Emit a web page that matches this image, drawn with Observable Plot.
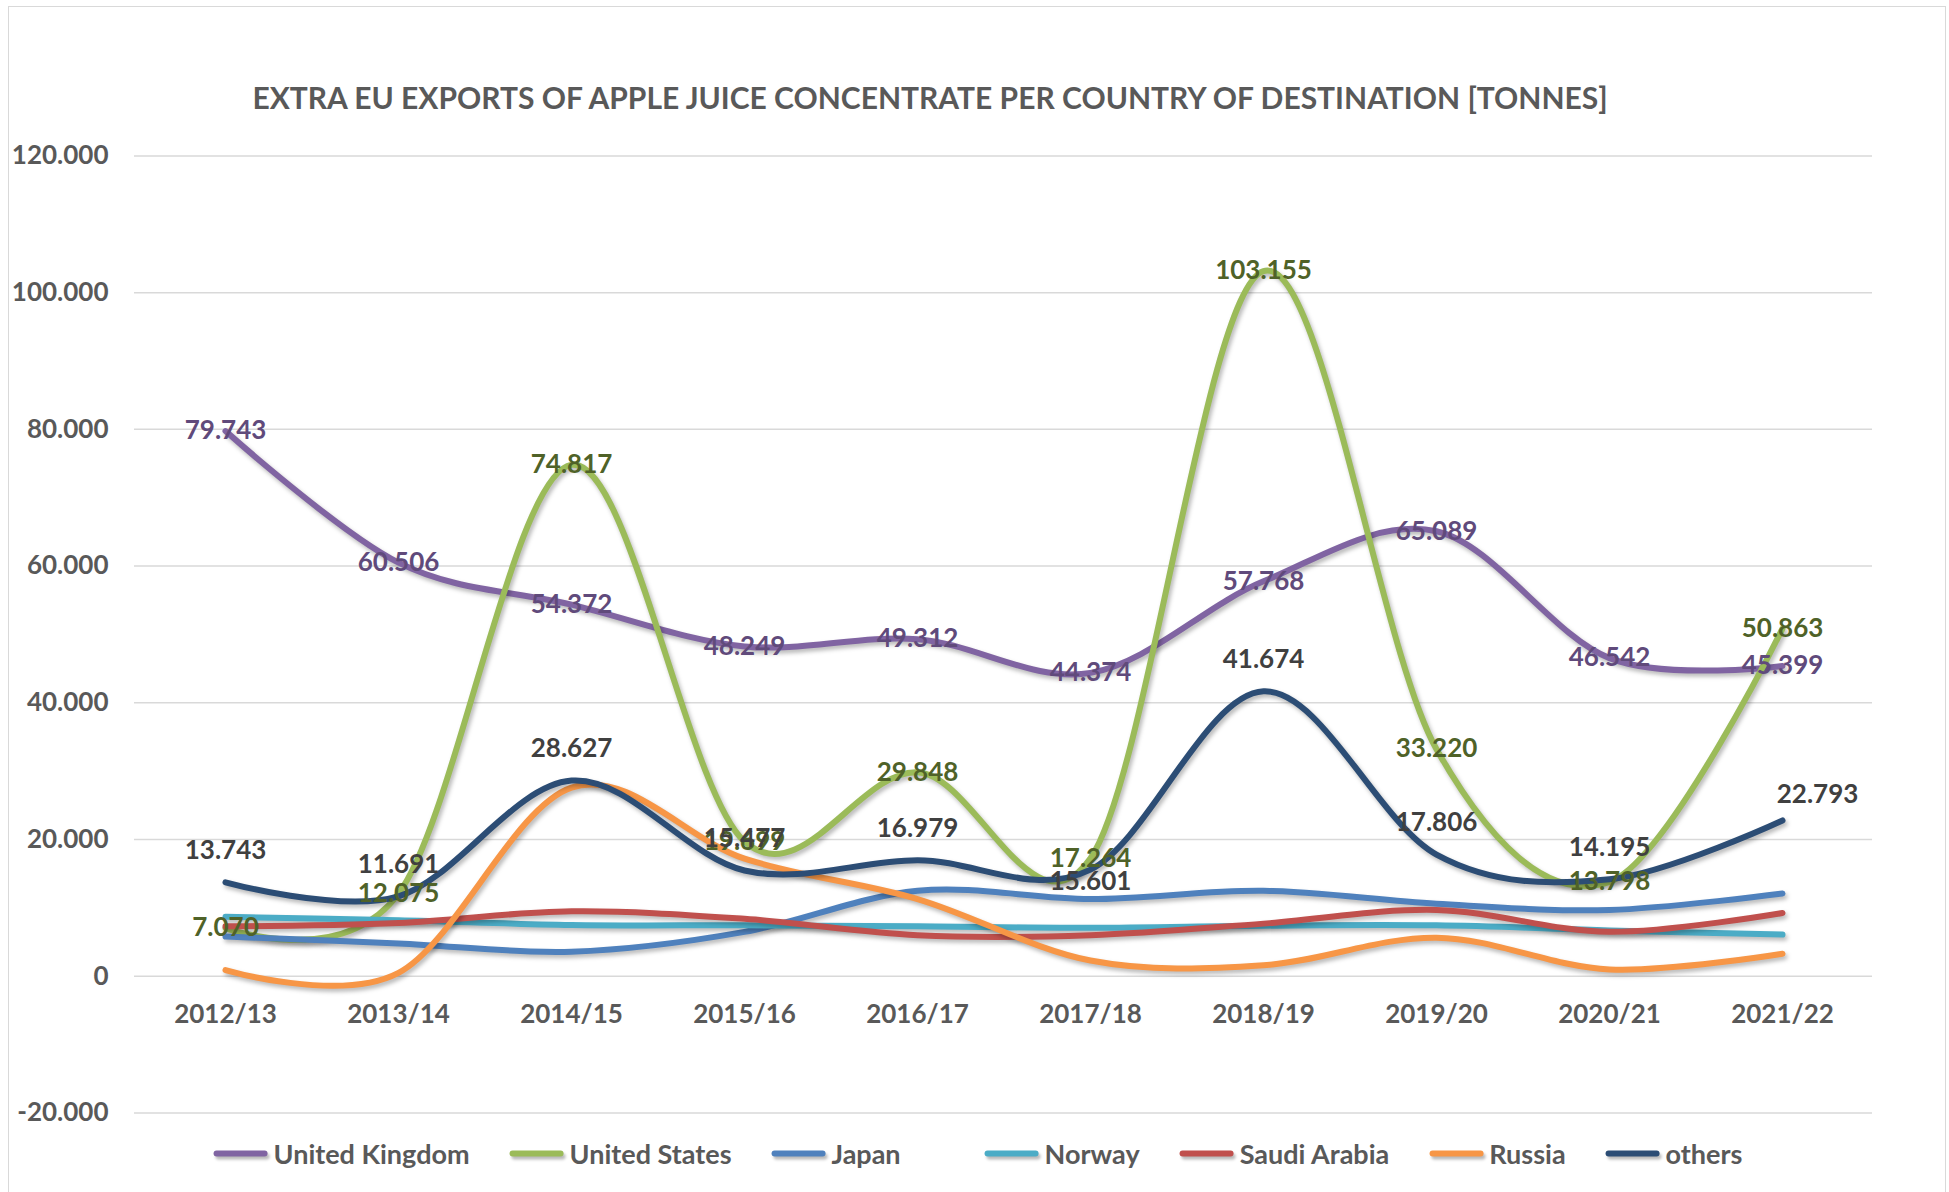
<!DOCTYPE html>
<html>
<head>
<meta charset="utf-8">
<script src="https://cdn.jsdelivr.net/npm/d3@7"></script>
<script src="https://cdn.jsdelivr.net/npm/@observablehq/plot@0.6"></script>
<style>
  html, body { margin: 0; padding: 0; background: #ffffff; }
  body { width: 1949px; height: 1192px; position: relative; overflow: hidden; font-family: Lato, "Open Sans", Roboto, sans-serif; }
  #border { position: absolute; left: 8px; top: 6px; width: 1938px; height: 1300px; border: 1.5px solid #d9d9d9; box-sizing: border-box; }
  #title { position: absolute; left: 930px; top: 97px; transform: translate(-50%, -50%); white-space: nowrap; font-weight: 700; font-size: 30px; color: #595959; }
  #chart { position: absolute; left: 0; top: 0; }
  #legend { position: absolute; top: 1153px; left: 978px; transform: translate(-50%, -50%); display: flex; align-items: center; white-space: nowrap; font-weight: 700; font-size: 27px; color: #595959; }
  .item { display: flex; align-items: center; margin-right: 40px; }
  .item:last-child { margin-right: 0; }
  .sw { width: 54px; height: 6px; border-radius: 3px; margin-right: 6px; box-shadow: 2px 3px 3px rgba(0,0,0,0.28); }
  g[aria-label="line"] path { filter: drop-shadow(2px 3px 2px rgba(0,0,0,0.28)); }
</style>
</head>
<body>
<div id="border"></div>
<div id="title">EXTRA EU EXPORTS OF APPLE JUICE CONCENTRATE PER COUNTRY OF DESTINATION [TONNES]</div>
<div id="chart"></div>
<div id="legend"></div>
<script>
// ---- data (tonnes) ----
const seasons = ["2012/13", "2013/14", "2014/15", "2015/16", "2016/17", "2017/18", "2018/19", "2019/20", "2020/21", "2021/22"];
const seriesNames = ["United Kingdom", "United States", "Japan", "Norway", "Saudi Arabia", "Russia", "others"];
const seriesColors = ["#8064A2", "#9BBB59", "#4F81BD", "#4BACC6", "#C0504D", "#F79646", "#2C4D75"];
const unitedKingdom = [79743, 60506, 54372, 48249, 49312, 44374, 57768, 65089, 46542, 45399];
const unitedStates  = [7070, 12075, 74817, 19699, 29848, 17264, 103155, 33220, 13798, 50863];
const japan         = [5800, 4800, 3600, 6500, 12500, 11300, 12500, 10600, 9700, 12100];
const norway        = [8700, 8200, 7500, 7450, 7300, 7100, 7400, 7450, 6700, 6100];
const saudiArabia   = [7300, 7800, 9500, 8400, 6000, 6000, 7700, 9700, 6500, 9250];
const russia        = [900, 500, 27600, 17200, 11300, 2300, 1600, 5650, 1000, 3300];
const others        = [13743, 11691, 28627, 15477, 16979, 15601, 41674, 17806, 14195, 22793];
const yTicks = [-20000, 0, 20000, 40000, 60000, 80000, 100000, 120000];

const seriesValues = [unitedKingdom, unitedStates, japan, norway, saudiArabia, russia, others];
const rows = seriesNames.flatMap((name, si) =>
  seasons.map((season, i) => ({series: name, season, value: seriesValues[si][i]})));

const locale = d3.formatLocale({decimal: ",", thousands: ".", grouping: [3], currency: ["", ""], minus: "-"});
const fmt = locale.format(",d");

const FONT = "Lato, 'Open Sans', Roboto, sans-serif";
const labelSize = 26;

const ukRows = rows.filter(d => d.series === "United Kingdom");
const usRows = rows.filter(d => d.series === "United States");
const otRows = rows.filter(d => d.series === "others");
const otMain = otRows.filter(d => d.season !== "2017/18" && d.season !== "2021/22");
const otBelow = otRows.filter(d => d.season === "2017/18");
const otRight = otRows.filter(d => d.season === "2021/22");

const chart = Plot.plot({
  width: 1949,
  height: 1192,
  marginLeft: 134,
  marginRight: 77,
  marginTop: 155.4,
  marginBottom: 79.5,
  style: {fontFamily: FONT, fontSize: "26px", fontWeight: 700, color: "#595959", background: "transparent", overflow: "visible"},
  x: {type: "point", domain: seasons, padding: 0.5, axis: null},
  y: {domain: [-20000, 120000], ticks: yTicks, tickFormat: d => fmt(d), tickSize: 0, tickPadding: 26, label: null},
  color: {domain: seriesNames, range: seriesColors},
  marks: [
    Plot.ruleY(yTicks, {stroke: "#d9d9d9", strokeWidth: 1.5}),
    Plot.text(seasons, {x: d => d, y: () => 0, text: d => d, dy: 38, fill: "#595959", fontSize: 26, fontWeight: 700}),
    Plot.line(rows, {x: "season", y: "value", z: "series", stroke: "series", strokeWidth: 6, curve: "cardinal", strokeLinecap: "round", strokeLinejoin: "round"}),
    Plot.text(ukRows, {x: "season", y: "value", text: d => fmt(d.value), fill: "#604A7B", fontSize: labelSize, fontWeight: 700}),
    Plot.text(usRows, {x: "season", y: "value", text: d => fmt(d.value), fill: "#4F6228", fontSize: labelSize, fontWeight: 700}),
    Plot.text(otMain, {x: "season", y: "value", text: d => fmt(d.value), dy: -32, fill: "#404040", fontSize: labelSize, fontWeight: 700}),
    Plot.text(otBelow, {x: "season", y: "value", text: d => fmt(d.value), dy: 12, fill: "#404040", fontSize: labelSize, fontWeight: 700}),
    Plot.text(otRight, {x: "season", y: "value", text: d => fmt(d.value), dx: 35, dy: -26, fill: "#404040", fontSize: labelSize, fontWeight: 700})
  ]
});
document.getElementById("chart").appendChild(chart);

// legend
const legend = document.getElementById("legend");
seriesNames.forEach((name, i) => {
  const item = document.createElement("div");
  item.className = "item";
  if (name === "Japan") item.style.marginRight = "84px";
  const sw = document.createElement("span");
  sw.className = "sw";
  sw.style.background = seriesColors[i];
  const tx = document.createElement("span");
  tx.textContent = name;
  item.appendChild(sw);
  item.appendChild(tx);
  legend.appendChild(item);
});
</script>
</body>
</html>
